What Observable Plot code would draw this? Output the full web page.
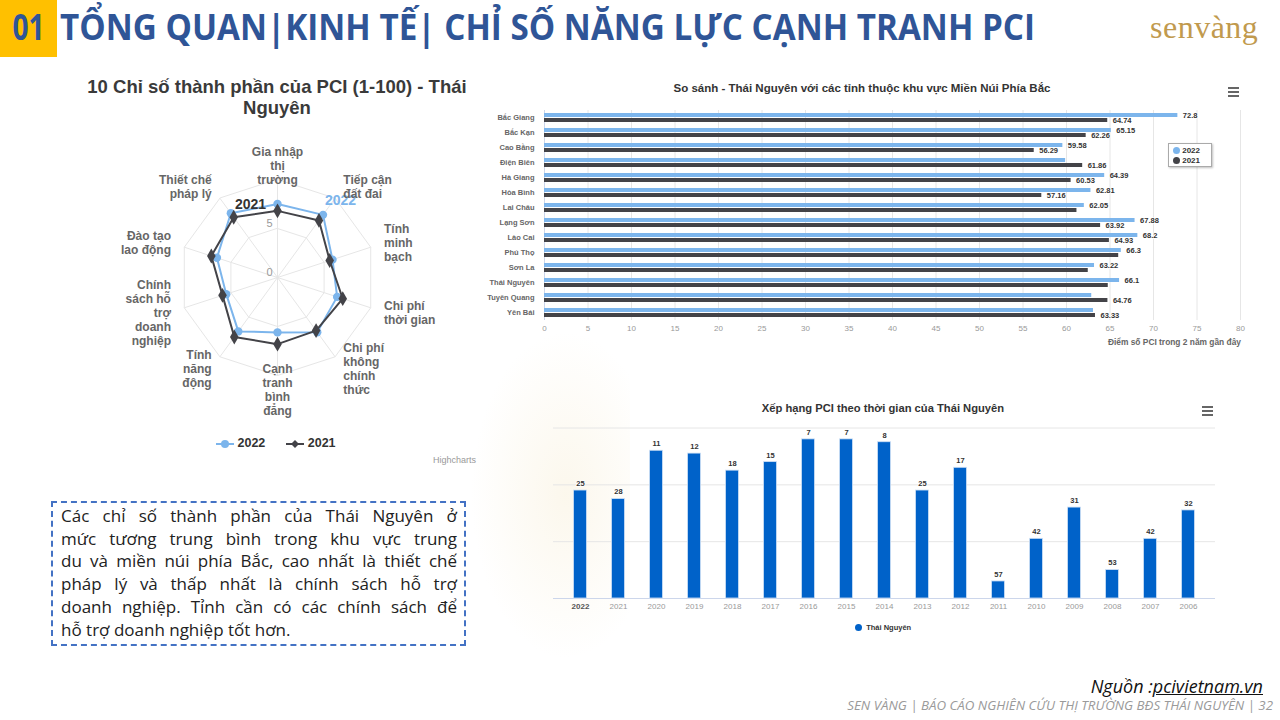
<!DOCTYPE html>
<html><head><meta charset="utf-8">
<script src="https://cdn.jsdelivr.net/npm/d3@7"></script>
<script src="https://cdn.jsdelivr.net/npm/@observablehq/plot@0.6"></script>
<style>
body{margin:0;width:1280px;height:720px;position:relative;overflow:hidden;background:#fff;font-family:"Open Sans",sans-serif;}
.abs{position:absolute;}
.hc{font-family:"Liberation Sans",Arial,sans-serif;}
.menu{position:absolute;width:11px;}
.menu div{height:2px;background:#666;margin-bottom:2px;}
#note div{text-align:justify;text-align-last:justify;}
#note div.last{text-align-last:left;}
</style></head><body>

<div class="abs" style="left:470px;top:330px;width:160px;height:330px;background:radial-gradient(ellipse at 60% 50%, rgba(240,220,170,0.22), rgba(255,255,255,0) 70%);"></div>
<div class="abs" style="left:0;top:0;width:57px;height:57px;background:#FFC000;"></div>
<div class="abs" id="num" style="left:0;top:9px;width:57px;text-align:center;font-weight:700;font-size:36px;line-height:36px;color:#2F5597;">01</div>
<div class="abs" id="head" style="left:60px;top:9px;font-weight:700;font-size:36px;line-height:36px;color:#2F5597;white-space:nowrap;transform-origin:0 0;">TỔNG QUAN|KINH TẾ| CHỈ SỐ NĂNG LỰC CẠNH TRANH PCI</div>
<div class="abs" style="left:1150px;top:8px;font-family:'Liberation Serif','DejaVu Serif',serif;font-size:32px;color:#C19A4E;line-height:38px;letter-spacing:0.5px;">senvàng</div>

<div class="abs hc" style="left:57px;top:76px;width:440px;text-align:center;font-weight:bold;font-size:18.5px;line-height:21px;color:#3a3a3a;">10 Chỉ số thành phần của PCI (1-100) - Thái<br>Nguyên</div>
<div class="abs" id="radar" style="left:77px;top:77px;"></div>
<div class="abs hc" style="left:216px;top:435px;font-weight:bold;font-size:12.5px;color:#333;line-height:16px;white-space:nowrap;">
<svg width="18" height="10" style="vertical-align:middle"><line x1="0" y1="5" x2="18" y2="5" stroke="#7cb5ec" stroke-width="2"/><circle cx="9" cy="5" r="4" fill="#7cb5ec"/></svg> 2022
<span style="display:inline-block;width:14px"></span>
<svg width="18" height="10" style="vertical-align:middle"><line x1="0" y1="5" x2="18" y2="5" stroke="#434348" stroke-width="2"/><path d="M9 1 L13 5 L9 9 L5 5 Z" fill="#434348"/></svg> 2021</div>
<div class="abs hc" style="left:433px;top:455px;font-size:9px;color:#999;">Highcharts</div>

<div class="abs hc" style="left:480px;top:82px;width:764px;text-align:center;font-weight:bold;font-size:11.5px;color:#333;">So sánh - Thái Nguyên với các tỉnh thuộc khu vực Miền Núi Phía Bắc</div>
<div class="menu" style="left:1228px;top:87px;"><div></div><div></div><div></div></div>
<div class="abs" id="bars" style="left:480px;top:75px;"></div>
<div class="abs hc" style="left:1168px;top:143px;width:44px;height:24px;border:1px solid #aaa;box-shadow:1px 1px 2px rgba(0,0,0,0.25);background:#fff;font-weight:bold;font-size:8px;color:#333;line-height:10px;padding-top:2px;box-sizing:border-box;">
<div style="padding-left:4px;white-space:nowrap;"><span style="display:inline-block;width:7px;height:7px;border-radius:50%;background:#7cb5ec;vertical-align:-1px;"></span> 2022</div>
<div style="padding-left:4px;white-space:nowrap;"><span style="display:inline-block;width:7px;height:7px;border-radius:50%;background:#434348;vertical-align:-1px;"></span> 2021</div></div>
<div class="abs hc" style="left:1000px;top:337px;width:241px;text-align:right;font-weight:bold;font-size:8.4px;color:#666;">Điểm số PCI trong 2 năm gần đây</div>

<div class="abs hc" style="left:550px;top:402px;width:666px;text-align:center;font-weight:bold;font-size:11.2px;color:#333;">Xếp hạng PCI theo thời gian của Thái Nguyên</div>
<div class="menu" style="left:1202px;top:406px;"><div></div><div></div><div></div></div>
<div class="abs" id="cols" style="left:550px;top:395px;"></div>
<div class="abs hc" style="left:855px;top:623px;font-weight:bold;font-size:7.5px;color:#333;white-space:nowrap;"><span style="display:inline-block;width:7px;height:7px;border-radius:50%;background:#0062C9;vertical-align:-1px;"></span>&nbsp; Thái Nguyên</div>

<div class="abs" style="left:51px;top:501px;width:415px;height:145px;border:2px dashed #4472C4;box-sizing:border-box;"></div>
<div class="abs" id="note" style="left:61px;top:505px;width:396px;font-size:17px;line-height:22.7px;color:#222;">
<div>Các chỉ số thành phần của Thái Nguyên ở</div>
<div>mức tương trung bình trong khu vực trung</div>
<div>du và miền núi phía Bắc, cao nhất là thiết chế</div>
<div>pháp lý và thấp nhất là chính sách hỗ trợ</div>
<div>doanh nghiệp. Tỉnh cần có các chính sách để</div>
<div class="last">hỗ trợ doanh nghiệp tốt hơn.</div>
</div>

<div class="abs" style="right:17px;top:674px;font-style:italic;font-size:18px;color:#111;white-space:nowrap;">Nguồn :<span style="text-decoration:underline;">pcivietnam.vn</span></div>
<div class="abs" style="right:7px;top:696px;font-style:italic;font-size:13.3px;color:#9a9a9a;white-space:nowrap;">SEN VÀNG | BÁO CÁO NGHIÊN CỨU THỊ TRƯỜNG BĐS THÁI NGUYÊN | 32</div>

<script>
// ---------- Radar data ----------
const radarAxes = ["Gia nhập\nthị\ntrường", "Tiếp cận\nđất đai", "Tính\nminh\nbạch", "Chi phí\nthời gian", "Chi phí\nkhông\nchính\nthức", "Cạnh\ntranh\nbình\nđẳng", "Tính\nnăng\nđộng", "Chính\nsách hỗ\ntrợ\ndoanh\nnghiệp", "Đào tạo\nlao động", "Thiết chế\npháp lý"];
const score2022 = [7.5, 7.9, 5.9, 6.4, 6.9, 5.6, 6.8, 5.5, 6.5, 8.1];
const score2021 = [6.8, 7.2, 5.6, 7.0, 6.7, 6.8, 7.5, 5.9, 7.1, 7.6];
const radarTicks = [0, 5];
const radarRings = [5, 10];
const radarMax = 10;

// ---------- Province comparison data ----------
const provinces = ["Bắc Giang", "Bắc Kạn", "Cao Bằng", "Điện Biên", "Hà Giang", "Hòa Bình", "Lai Châu", "Lạng Sơn", "Lào Cai", "Phú Thọ", "Sơn La", "Thái Nguyên", "Tuyên Quang", "Yên Bái"];
const pci2022 = [72.8, 65.15, 59.58, 59.9, 64.39, 62.81, 62.05, 67.88, 68.2, 66.3, 63.22, 66.1, 62.9, 63.1];
const pci2021 = [64.74, 62.26, 56.29, 61.86, 60.53, 57.16, 61.2, 63.92, 64.93, 66.0, 62.5, 64.8, 64.76, 63.33];
const hiddenLabels2022 = ["Điện Biên", "Tuyên Quang", "Yên Bái"];
const hiddenLabels2021 = ["Lai Châu", "Phú Thọ", "Sơn La", "Thái Nguyên"];
const pciTicks = [0, 5, 10, 15, 20, 25, 30, 35, 40, 45, 50, 55, 60, 65, 70, 75, 80];

// ---------- Ranking data ----------
const years = ["2022", "2021", "2020", "2019", "2018", "2017", "2016", "2015", "2014", "2013", "2012", "2011", "2010", "2009", "2008", "2007", "2006"];
const ranks = [25, 28, 11, 12, 18, 15, 7, 7, 8, 25, 17, 57, 42, 31, 53, 42, 32];
const rankBase = 63;
const rankGrid = [3, 23, 43];

const FONT = "'Liberation Sans', Arial, sans-serif";

// ---------- Radar ----------
{
  const N = radarAxes.length;
  const ang = i => 2 * Math.PI * i / N;
  const pt = (v, i) => ({x: v * Math.sin(ang(i)), y: v * Math.cos(ang(i))});
  const s22 = score2022.map((v, i) => pt(v, i));
  const s21 = score2021.map((v, i) => pt(v, i));
  const rings = radarRings.flatMap(r => radarAxes.map((_, i) => ({ring: r, ...pt(r, i)})));
  const spokes = radarAxes.map((_, i) => pt(radarMax, i));
  const labR = radarMax * 1.143;
  const labels = radarAxes.map((t, i) => ({t, s: Math.sin(ang(i)), ...pt(labR, i)}));
  const D = radarMax * 200 / 98;
  const lab = (filter, anchor) => Plot.text(labels.filter(filter), {x: "x", y: "y", text: "t", textAnchor: anchor, lineAnchor: "middle", lineHeight: 1.17, fontSize: 12, fontWeight: "bold", fill: "#666"});
  const chart = Plot.plot({
    width: 400, height: 400, margin: 0,
    style: {fontFamily: FONT, background: "transparent", overflow: "visible"},
    x: {domain: [-D, D], axis: null},
    y: {domain: [-D, D], axis: null},
    marks: [
      Plot.line(rings, {x: "x", y: "y", z: "ring", curve: "linear-closed", stroke: "#e6e6e6", strokeWidth: 1}),
      Plot.link(spokes, {x1: () => 0, y1: () => 0, x2: "x", y2: "y", stroke: "#e6e6e6", strokeWidth: 1}),
      Plot.text(radarTicks, {x: () => 0, y: d => d, text: d => String(d), dx: -8, dy: -5, fill: "#999", fontSize: 11}),
      Plot.line(s22, {x: "x", y: "y", curve: "linear-closed", stroke: "#7cb5ec", strokeWidth: 2}),
      Plot.dot(s22, {x: "x", y: "y", r: 4.2, fill: "#7cb5ec", symbol: "circle"}),
      Plot.line(s21, {x: "x", y: "y", curve: "linear-closed", stroke: "#434348", strokeWidth: 2}),
      Plot.dot(s21, {x: "x", y: "y", r: 4.5, fill: "#434348", symbol: "diamond"}),
      Plot.text([s21[0]], {x: "x", y: "y", text: () => "2021", dx: -27, dy: -6, fontSize: 14, fill: "#333", fontWeight: 600}),
      Plot.text([s22[0]], {x: "x", y: "y", text: () => "2022", dx: 63, dy: -3, fontSize: 14, fill: "#7cb5ec", fontWeight: 600}),
      lab(d => d.s > 0.1, "start"),
      lab(d => d.s < -0.1, "end"),
      lab(d => Math.abs(d.s) <= 0.1, "middle")
    ]
  });
  document.getElementById("radar").append(chart);
}

// ---------- Horizontal grouped bars ----------
{
  const rows = provinces.map((p, i) => ({p, a: pci2022[i], b: pci2021[i]}));
  const chart = Plot.plot({
    width: 780, height: 285,
    marginLeft: 64, marginRight: 20, marginTop: 35, marginBottom: 40,
    style: {fontFamily: FONT, background: "transparent", overflow: "visible"},
    x: {domain: [0, 80]},
    y: {domain: provinces, padding: 0},
    marks: [
      Plot.gridX(pciTicks, {stroke: "#e6e6e6", strokeOpacity: 1}),
      Plot.ruleX([0], {stroke: "#ccd6eb"}),
      Plot.axisX({ticks: pciTicks, tickSize: 0, tickPadding: 5, fontSize: 8, fill: "#999", label: null}),
      Plot.axisY({tickSize: 0, tickPadding: 10, fontSize: 7.5, fontWeight: "bold", fill: "#666", label: null}),
      Plot.barX(rows, {x: "a", y: "p", fill: "#7cb5ec", insetTop: 3, insetBottom: 8}),
      Plot.barX(rows, {x: "b", y: "p", fill: "#434348", insetTop: 8, insetBottom: 3}),
      Plot.text(rows.filter(d => !hiddenLabels2022.includes(d.p)), {x: "a", y: "p", text: d => String(d.a), dx: 5, dy: -2.5, textAnchor: "start", fontSize: 7.5, fontWeight: "bold", fill: "#333", stroke: "#fff", strokeWidth: 1.5}),
      Plot.text(rows.filter(d => !hiddenLabels2021.includes(d.p)), {x: "b", y: "p", text: d => String(d.b), dx: 5, dy: 2.5, textAnchor: "start", fontSize: 7.5, fontWeight: "bold", fill: "#333", stroke: "#fff", strokeWidth: 1.5})
    ]
  });
  document.getElementById("bars").append(chart);
}

// ---------- Ranking columns ----------
{
  const data = years.map((y, i) => ({y, r: ranks[i]}));
  const chart = Plot.plot({
    width: 680, height: 250,
    marginLeft: 3, marginRight: 15, marginTop: 24, marginBottom: 47,
    style: {fontFamily: FONT, background: "transparent", overflow: "visible"},
    x: {domain: years, padding: 0},
    y: {domain: [rankBase, 0], axis: null},
    marks: [
      Plot.ruleY(rankGrid, {stroke: "#e6e6e6"}),
      Plot.ruleY([rankBase], {stroke: "#ccd6eb"}),
      Plot.barY(data, {x: "y", y1: () => rankBase, y2: "r", fill: "#0062C9", stroke: "#cfe0f5", strokeWidth: 0.8, insetLeft: 12.5, insetRight: 12.5}),
      Plot.text(data, {x: "y", y: "r", text: d => String(d.r), dy: -7, fontSize: 7.5, fontWeight: "bold", fill: "#333", stroke: "#fff", strokeWidth: 1.5}),
      Plot.axisX({ticks: years.slice(1), tickSize: 0, tickPadding: 5, fontSize: 8, fill: "#999", label: null}),
      Plot.axisX({ticks: years.slice(0, 1), tickSize: 0, tickPadding: 5, fontSize: 8, fontWeight: "bold", fill: "#555", label: null})
    ]
  });
  document.getElementById("cols").append(chart);
}

// fit header width
{
  const h = document.getElementById("head");
  const w = h.getBoundingClientRect().width;
  h.style.transform = `scaleX(${975 / w})`;
  const n = document.getElementById("num");
  n.style.transform = "scaleX(0.78)";
}
</script>
</body></html>
